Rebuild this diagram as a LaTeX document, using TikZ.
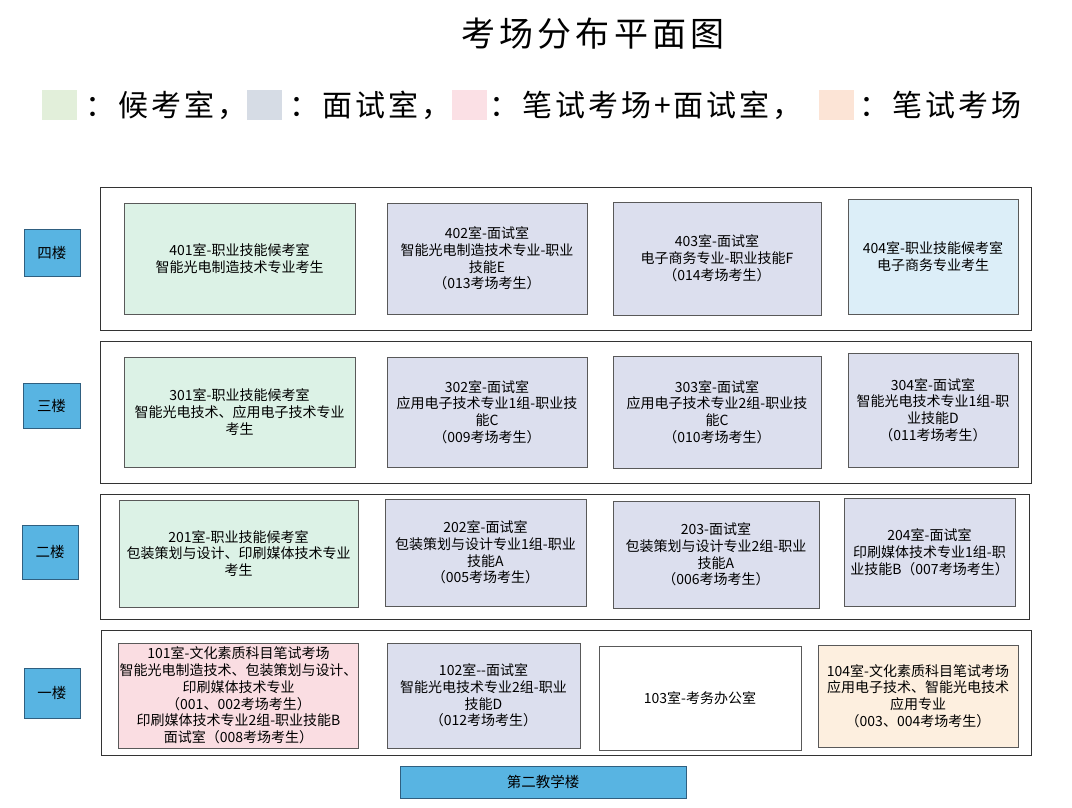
\documentclass[tikz,border=0pt]{standalone}
\usepackage{fontspec}
\setmainfont{Noto Sans CJK SC}
\newfontfamily\legfont{Noto Sans CJK SC}[LetterSpace=10]
\newfontfamily\ttlfont{Noto Sans CJK SC}[LetterSpace=12]
\definecolor{wait}{HTML}{DCF2E6}
\definecolor{intv}{HTML}{DCDFEE}
\definecolor{wait4}{HTML}{DCEEF8}
\definecolor{mixr}{HTML}{FADDE2}
\definecolor{writ}{HTML}{FDEFDF}
\definecolor{floorc}{HTML}{58B4E2}
\definecolor{floorb}{HTML}{2F5F80}
\definecolor{lgreen}{HTML}{E2EFDA}
\definecolor{lblue}{HTML}{D6DCE5}
\definecolor{lpink}{HTML}{FBE0E5}
\definecolor{lpeach}{HTML}{FCE4D6}
\tikzset{
  room/.style={draw=black!65, line width=0.9pt, align=center, inner sep=1pt,
    font=\fontsize{14}{16.8}\selectfont},
  frame/.style={draw=black!80, line width=0.9pt, fill=white},
  floorlbl/.style={draw=floorb, fill=floorc, line width=0.9pt, align=center,
    font=\fontsize{14.5}{16}\selectfont},
  swatch/.style={draw=none, minimum width=35pt, minimum height=30pt, inner sep=0pt},
  legtext/.style={anchor=west, inner sep=0pt, font=\legfont\fontsize{30}{32}\selectfont},
}
\begin{document}
\begin{tikzpicture}[x=1pt,y=-1pt]
\useasboundingbox (0,0) rectangle (1072,807);
\fill[white] (0,0) rectangle (1072,807);
% title
\node[font=\ttlfont\fontsize{34}{38}\selectfont, inner sep=0pt] (title) at (593,34) {考场分布平面图};
% legend
\node[swatch, fill=lgreen] (sw1) at (59.5,105) {};
\node[legtext] (lt1) at (85,105) {：候考室，};
\node[swatch, fill=lblue] (sw2) at (264.5,105) {};
\node[legtext] (lt2) at (289,105) {：面试室，};
\node[swatch, fill=lpink] (sw3) at (469,105) {};
\node[legtext] (lt3) at (489,105) {：笔试考场+面试室，};
\node[swatch, fill=lpeach] (sw4) at (836.5,105) {};
\node[legtext] (lt4) at (859,105) {：笔试考场};
% floor frames
\node[frame, minimum width=931pt, minimum height=143pt] (f4) at (565.5,258.5) {};
\node[frame, minimum width=931pt, minimum height=142pt] (f3) at (565.5,412) {};
\node[frame, minimum width=929pt, minimum height=125pt] (f2) at (564.5,556.5) {};
\node[frame, minimum width=930pt, minimum height=125pt] (f1) at (566,692.5) {};
% floor labels
\node[floorlbl, minimum width=56pt, minimum height=47pt] (l4) at (52,252.5) {四楼};
\node[floorlbl, minimum width=57pt, minimum height=45pt] (l3) at (51.5,405.5) {三楼};
\node[floorlbl, minimum width=56pt, minimum height=54pt] (l2) at (50,552) {二楼};
\node[floorlbl, minimum width=56pt, minimum height=50pt] (l1) at (52,693) {一楼};
% fourth floor
\node[room, fill=wait, minimum width=231pt, minimum height=111pt] (r401) at (239.5,258.5)
  {401室-职业技能候考室\\智能光电制造技术专业考生};
\node[room, fill=intv, minimum width=200pt, minimum height=111pt] (r402) at (487,258.5)
  {402室-面试室\\智能光电制造技术专业-职业\\技能E\\（013考场考生）};
\node[room, fill=intv, minimum width=208pt, minimum height=113pt] (r403) at (717,258.5)
  {403室-面试室\\电子商务专业-职业技能F\\（014考场考生）};
\node[room, fill=wait4, minimum width=170pt, minimum height=115pt] (r404) at (933,256.5)
  {404室-职业技能候考室\\电子商务专业考生};
% third floor
\node[room, fill=wait, minimum width=231pt, minimum height=110pt] (r301) at (239.5,412)
  {301室-职业技能候考室\\智能光电技术、应用电子技术专业\\考生};
\node[room, fill=intv, minimum width=200pt, minimum height=110pt] (r302) at (487,412)
  {302室-面试室\\应用电子技术专业1组-职业技\\能C\\（009考场考生）};
\node[room, fill=intv, minimum width=208pt, minimum height=112pt] (r303) at (717,412)
  {303室-面试室\\应用电子技术专业2组-职业技\\能C\\（010考场考生）};
\node[room, fill=intv, minimum width=170pt, minimum height=114pt] (r304) at (933,410)
  {304室-面试室\\智能光电技术专业1组-职\\业技能D\\（011考场考生）};
% second floor
\node[room, fill=wait, minimum width=239pt, minimum height=107pt] (r201) at (238.5,553.5)
  {201室-职业技能候考室\\包装策划与设计、印刷媒体技术专业\\考生};
\node[room, fill=intv, minimum width=201pt, minimum height=107pt] (r202) at (485.5,552.5)
  {202室-面试室\\包装策划与设计专业1组-职业\\技能A\\（005考场考生）};
\node[room, fill=intv, minimum width=206pt, minimum height=107pt] (r203) at (716,554.5)
  {203-面试室\\包装策划与设计专业2组-职业\\技能A\\（006考场考生）};
\node[room, fill=intv, minimum width=171pt, minimum height=108pt] (r204) at (929.5,552)
  {204室-面试室\\印刷媒体技术专业1组-职\\业技能B（007考场考生）};
% first floor
\node[room, fill=mixr, minimum width=239pt, minimum height=105pt] (r101) at (238.5,695.5)
  {101室-文化素质科目笔试考场\\智能光电制造技术、包装策划与设计、\\印刷媒体技术专业\\（001、002考场考生）\\印刷媒体技术专业2组-职业技能B\\面试室（008考场考生）};
\node[room, fill=intv, minimum width=193pt, minimum height=105pt] (r102) at (483.5,695.5)
  {102室-{}-面试室\\智能光电技术专业2组-职业\\技能D\\（012考场考生）};
\node[room, fill=white, minimum width=202pt, minimum height=104pt] (r103) at (700,698)
  {103室-考务办公室};
\node[room, fill=writ, minimum width=200pt, minimum height=102pt] (r104) at (918,696)
  {104室-文化素质科目笔试考场\\应用电子技术、智能光电技术\\应用专业\\（003、004考场考生）};
% building
\node[floorlbl, minimum width=286pt, minimum height=32pt] (bld) at (543,782) {第二教学楼};
\end{tikzpicture}
\end{document}
